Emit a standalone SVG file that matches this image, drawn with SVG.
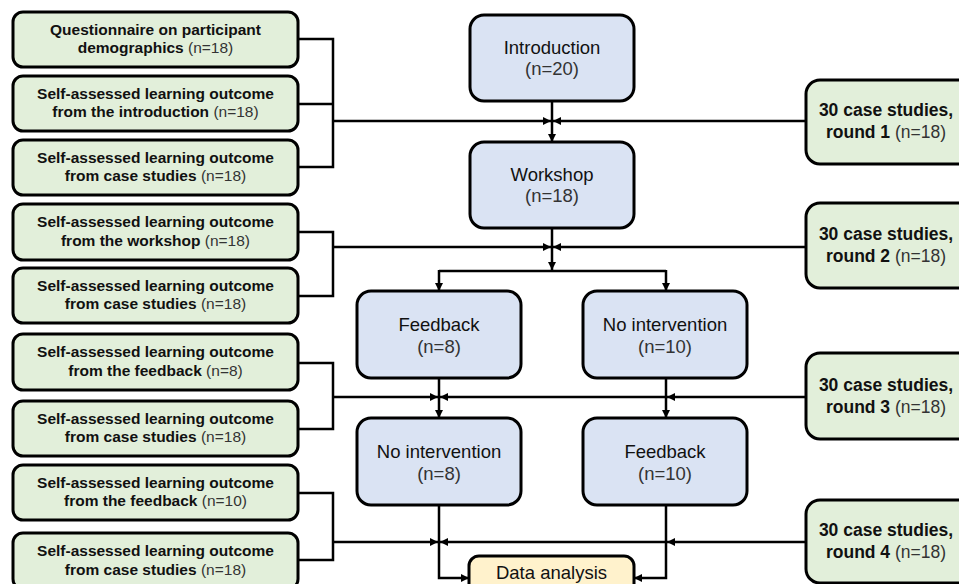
<svg xmlns="http://www.w3.org/2000/svg" width="959" height="584" viewBox="0 0 959 584">
<defs>
<marker id="arr" viewBox="0 0 10 10" refX="10" refY="5" markerWidth="8" markerHeight="8" markerUnits="userSpaceOnUse" orient="auto">
<path d="M0,0 L10,5 L0,10 z" fill="#000"/>
</marker>
<style>
.g{fill:#E2EFDA;stroke:#000;stroke-width:3}
.b{fill:#DAE3F3;stroke:#000;stroke-width:3}
.y{fill:#FFF2CC;stroke:#000;stroke-width:3}
.lt{font-family:"Liberation Sans",Arial,sans-serif;font-size:15.5px;font-weight:bold;fill:#111;text-anchor:middle}
.ct{font-family:"Liberation Sans",Arial,sans-serif;font-size:18.5px;fill:#111;text-anchor:middle}
.rt{font-family:"Liberation Sans",Arial,sans-serif;font-size:17.5px;font-weight:bold;fill:#111;text-anchor:middle}
.n{font-weight:normal;fill:#333}
.c{fill:none;stroke:#000;stroke-width:2.5}
.a{fill:none;stroke:#000;stroke-width:2.5;marker-end:url(#arr)}
</style>
</defs>

<g id="connectors">
<path class="c" d="M298,39 H333 V167 H298 M298,104 H333"/>
<path class="a" d="M333,121 H551"/>
<path class="a" d="M806,121 H553"/>
<path class="a" d="M552,101 V142"/>
<path class="c" d="M298,232 H333 V296 H298"/>
<path class="a" d="M333,247 H551"/>
<path class="a" d="M806,247 H553"/>
<path class="a" d="M552,228 V270"/>
<path class="c" d="M439,271 H666"/>
<path class="a" d="M439,270 V291"/>
<path class="a" d="M666,270 V291"/>
<path class="c" d="M298,363 H333 V429 H298"/>
<path class="a" d="M333,397 H438"/>
<path class="a" d="M806,397 H667"/>
<path class="a" d="M666,397 H440"/>
<path class="a" d="M439,378 V418"/>
<path class="a" d="M666,378 V418"/>
<path class="c" d="M298,493 H333 V560 H298"/>
<path class="a" d="M333,542 H438"/>
<path class="a" d="M806,542 H667"/>
<path class="a" d="M666,542 H440"/>
<path class="a" d="M439,505 V578 H469"/>
<path class="a" d="M666,505 V578 H634"/>
</g>

<g id="q1"><rect class="g" x="13" y="12" width="285" height="55" rx="10"/>
<text class="lt" x="155.5" y="34.5">Questionnaire on participant</text>
<text class="lt" x="155.5" y="53">demographics <tspan class="n">(n=18)</tspan></text></g>

<g id="q2"><rect class="g" x="13" y="76" width="285" height="55" rx="10"/>
<text class="lt" x="155.5" y="98.5">Self-assessed learning outcome</text>
<text class="lt" x="155.5" y="117">from the introduction <tspan class="n">(n=18)</tspan></text></g>

<g id="q3"><rect class="g" x="13" y="140" width="285" height="55" rx="10"/>
<text class="lt" x="155.5" y="162.5">Self-assessed learning outcome</text>
<text class="lt" x="155.5" y="181">from case studies <tspan class="n">(n=18)</tspan></text></g>

<g id="q4"><rect class="g" x="13" y="204" width="285" height="56" rx="10"/>
<text class="lt" x="155.5" y="227">Self-assessed learning outcome</text>
<text class="lt" x="155.5" y="245.5">from the workshop <tspan class="n">(n=18)</tspan></text></g>

<g id="q5"><rect class="g" x="13" y="268" width="285" height="55" rx="10"/>
<text class="lt" x="155.5" y="290.5">Self-assessed learning outcome</text>
<text class="lt" x="155.5" y="309">from case studies <tspan class="n">(n=18)</tspan></text></g>

<g id="q6"><rect class="g" x="13" y="334" width="285" height="56" rx="10"/>
<text class="lt" x="155.5" y="357">Self-assessed learning outcome</text>
<text class="lt" x="155.5" y="375.5">from the feedback <tspan class="n">(n=8)</tspan></text></g>

<g id="q7"><rect class="g" x="13" y="401" width="285" height="55" rx="10"/>
<text class="lt" x="155.5" y="423.5">Self-assessed learning outcome</text>
<text class="lt" x="155.5" y="442">from case studies <tspan class="n">(n=18)</tspan></text></g>

<g id="q8"><rect class="g" x="13" y="465" width="285" height="55" rx="10"/>
<text class="lt" x="155.5" y="487.5">Self-assessed learning outcome</text>
<text class="lt" x="155.5" y="506">from the feedback <tspan class="n">(n=10)</tspan></text></g>

<g id="q9"><rect class="g" x="13" y="533" width="285" height="56" rx="10"/>
<text class="lt" x="155.5" y="556">Self-assessed learning outcome</text>
<text class="lt" x="155.5" y="574.5">from case studies <tspan class="n">(n=18)</tspan></text></g>

<g id="introduction"><rect class="b" x="470" y="15" width="164" height="86" rx="14"/>
<text class="ct" x="552" y="54">Introduction</text>
<text class="ct n" x="552" y="75">(n=20)</text></g>

<g id="workshop"><rect class="b" x="470" y="142" width="164" height="86" rx="14"/>
<text class="ct" x="552" y="181">Workshop</text>
<text class="ct n" x="552" y="202">(n=18)</text></g>

<g id="feedback1"><rect class="b" x="357" y="291" width="164" height="87" rx="14"/>
<text class="ct" x="439" y="331">Feedback</text>
<text class="ct n" x="439" y="353">(n=8)</text></g>

<g id="nointervention1"><rect class="b" x="583" y="291" width="164" height="87" rx="14"/>
<text class="ct" x="665" y="331">No intervention</text>
<text class="ct n" x="665" y="353">(n=10)</text></g>

<g id="nointervention2"><rect class="b" x="357" y="418" width="164" height="87" rx="14"/>
<text class="ct" x="439" y="458">No intervention</text>
<text class="ct n" x="439" y="480">(n=8)</text></g>

<g id="feedback2"><rect class="b" x="583" y="418" width="164" height="87" rx="14"/>
<text class="ct" x="665" y="458">Feedback</text>
<text class="ct n" x="665" y="480">(n=10)</text></g>

<g id="dataanalysis"><rect class="y" x="469" y="556" width="165" height="50" rx="10"/>
<text class="ct" x="551.5" y="579">Data analysis</text></g>

<g id="round1"><rect class="g" x="806" y="80" width="170" height="84" rx="14"/>
<text class="rt" x="886" y="116">30 case studies,</text>
<text class="rt" x="886" y="138">round 1 <tspan class="n">(n=18)</tspan></text></g>

<g id="round2"><rect class="g" x="806" y="203" width="170" height="85" rx="14"/>
<text class="rt" x="886" y="240">30 case studies,</text>
<text class="rt" x="886" y="262">round 2 <tspan class="n">(n=18)</tspan></text></g>

<g id="round3"><rect class="g" x="806" y="353" width="170" height="86" rx="14"/>
<text class="rt" x="886" y="391">30 case studies,</text>
<text class="rt" x="886" y="413">round 3 <tspan class="n">(n=18)</tspan></text></g>

<g id="round4"><rect class="g" x="806" y="500" width="170" height="83" rx="14"/>
<text class="rt" x="886" y="536">30 case studies,</text>
<text class="rt" x="886" y="558">round 4 <tspan class="n">(n=18)</tspan></text></g>
</svg>
